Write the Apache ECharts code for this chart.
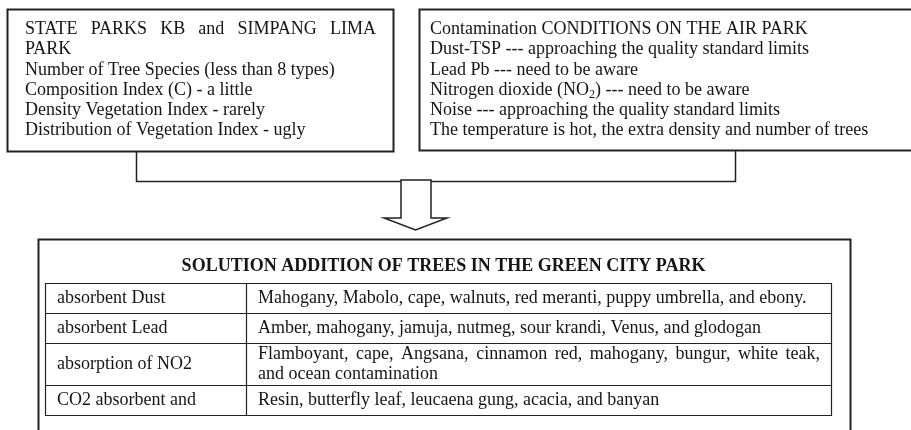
<!DOCTYPE html>
<html>
<head>
<meta charset="utf-8">
<script src="https://cdn.jsdelivr.net/npm/echarts@6/dist/echarts.min.js"></script>
<style>
html,body{margin:0;padding:0;background:#fff;}
#chart{width:911px;height:430px;}
</style>
</head>
<body>
<div id="chart"></div>
<script>
// ---- content (paragraphs: every line except the last of a paragraph is justified) ----
const leftBoxParagraphs = [
  ['STATE PARKS KB and SIMPANG LIMA', 'PARK'],
  ['Number of Tree Species (less than 8 types)'],
  ['Composition Index (C) - a little'],
  ['Density Vegetation Index - rarely'],
  ['Distribution of Vegetation Index - ugly']
];
const rightBoxParagraphs = [
  ['Contamination CONDITIONS ON THE AIR PARK'],
  ['Dust-TSP --- approaching the quality standard limits'],
  ['Lead Pb --- need to be aware'],
  ['Nitrogen dioxide (NO{sub|2}) --- need to be aware'],
  ['Noise --- approaching the quality standard limits'],
  ['The temperature is hot, the extra density and number of trees']
];
const solutionTitle = 'SOLUTION ADDITION OF TREES IN THE GREEN CITY PARK';
const tableCategories = ['absorbent Dust', 'absorbent Lead', 'absorption of NO2', 'CO2 absorbent and'];
const tableTrees = [
  ['Mahogany, Mabolo, cape, walnuts, red meranti, puppy umbrella, and ebony.'],
  ['Amber, mahogany, jamuja, nutmeg, sour krandi, Venus, and glodogan'],
  ['Flamboyant, cape, Angsana, cinnamon red, mahogany, bungur, white teak,', 'and ocean contamination'],
  ['Resin, butterfly leaf, leucaena gung, acacia, and banyan']
];

// ---- layout / style ----
const FAMILY = '"Liberation Serif", "Times New Roman", serif';
const TXT = '#151515';
const LINE = '#222';
const BOX_FS = 18, TAB_FS = 18, TITLE_FS = 18, SUB_FS = 12;
const cv = document.createElement('canvas').getContext('2d');
function measure(s, fs, w) { cv.font = (w || 'normal') + ' ' + fs + 'px ' + FAMILY; return cv.measureText(s).width; }

const graphics = [];
function addText(x, y, s, fs, weight, align) {
  graphics.push({
    type: 'text', x: x, y: y, silent: true,
    style: { text: s, fill: TXT, fontSize: fs, fontFamily: FAMILY, fontWeight: weight || 'normal',
             textAlign: align || 'left', align: align || 'left',
             textVerticalAlign: 'middle', verticalAlign: 'middle' }
  });
}
// parse '{sub|x}' markup into segments
function segments(s) {
  const out = []; const re = /\{sub\|([^}]*)\}/g; let last = 0, m;
  while ((m = re.exec(s))) {
    if (m.index > last) out.push({ t: s.slice(last, m.index), sub: false });
    out.push({ t: m[1], sub: true }); last = re.lastIndex;
  }
  if (last < s.length) out.push({ t: s.slice(last), sub: false });
  return out;
}
function drawLine(x, y, s, fs, justifyTo) {
  if (justifyTo) {
    const words = s.split(' ');
    const total = words.reduce((a, w) => a + measure(w, fs), 0);
    const gap = (justifyTo - x - total) / (words.length - 1);
    let cx = x;
    words.forEach(w => { addText(cx, y, w, fs); cx += measure(w, fs) + gap; });
    return;
  }
  let cx = x;
  segments(s).forEach(seg => {
    if (seg.sub) { addText(cx, y + 5, seg.t, SUB_FS); cx += measure(seg.t, SUB_FS); }
    else { addText(cx, y, seg.t, fs); cx += measure(seg.t, fs); }
  });
}
function drawParagraphs(paras, x, y0, lh, fs, right) {
  let y = y0;
  paras.forEach(p => p.forEach((ln, i) => {
    drawLine(x, y, ln, fs, i < p.length - 1 ? right : null);
    y += lh;
  }));
}
function rect(x, y, w, h, lw) {
  graphics.push({ type: 'rect', silent: true, shape: { x: x, y: y, width: w, height: h },
    style: { fill: 'none', stroke: LINE, lineWidth: lw } });
}
function line(x1, y1, x2, y2, lw) {
  graphics.push({ type: 'line', silent: true, shape: { x1: x1, y1: y1, x2: x2, y2: y2 },
    style: { stroke: LINE, lineWidth: lw } });
}

// top boxes
rect(7.5, 9.5, 386, 142, 2);
drawParagraphs(leftBoxParagraphs, 25, 29.5, 20.2, BOX_FS, 376);
rect(419.5, 9.5, 520, 141, 2);
drawParagraphs(rightBoxParagraphs, 430, 29.5, 20.2, BOX_FS, null);

// connector
graphics.push({ type: 'polyline', silent: true,
  shape: { points: [[136.5, 152], [136.5, 181.5], [735.5, 181.5], [735.5, 151]] },
  style: { fill: 'none', stroke: LINE, lineWidth: 1.5 } });
// arrow
graphics.push({ type: 'polygon', silent: true,
  shape: { points: [[401, 180], [431, 180], [431, 218], [447, 218], [415.5, 230], [384, 218], [401, 218]] },
  style: { fill: '#fff', stroke: LINE, lineWidth: 1.5 } });

// bottom box
rect(38.5, 239.5, 812, 220, 2);
addText(443.5, 266, solutionTitle, TITLE_FS, 'bold', 'center');

// table
const tL = 45.5, tR = 831.5, tDiv = 246.5;
const rowBounds = [283.5, 313.5, 343.5, 385.5, 415.5];
rect(tL, rowBounds[0], tR - tL, rowBounds[4] - rowBounds[0], 1.2);
for (let i = 1; i < rowBounds.length - 1; i++) line(tL, rowBounds[i], tR, rowBounds[i], 1.2);
line(tDiv, rowBounds[0], tDiv, rowBounds[4], 1.2);
tableCategories.forEach((c, i) => {
  const top = rowBounds[i], bot = rowBounds[i + 1];
  addText(57, (top + bot) / 2, c, TAB_FS);
  const lines = tableTrees[i];
  const lh = 20;
  const start = (top + bot) / 2 - (lines.length - 1) * lh / 2;
  lines.forEach((ln, j) => drawLine(258, start + j * lh, ln, TAB_FS, j < lines.length - 1 ? 820 : null));
});

const chart = echarts.init(document.getElementById('chart'), null, { renderer: 'canvas' });
chart.setOption({ backgroundColor: '#fff', animation: false, graphic: graphics });
</script>
</body>
</html>
